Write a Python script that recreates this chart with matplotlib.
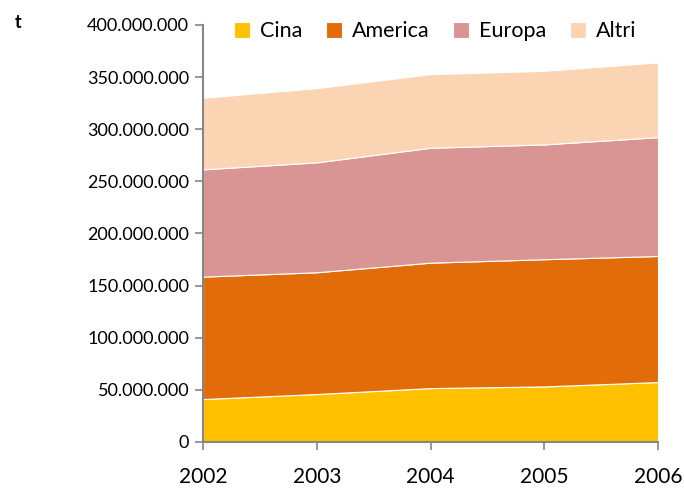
import matplotlib
matplotlib.use('Agg')
from matplotlib import pyplot as plt
from matplotlib.ticker import FuncFormatter, MultipleLocator
import numpy as np

years = [2002, 2003, 2004, 2005, 2006]
series_names = ['Cina', 'America', 'Europa', 'Altri']
cina = [41.2e6, 46.0e6, 51.7e6, 53.3e6, 57.5e6]
america = [117.4e6, 116.8e6, 120.3e6, 122.0e6, 120.9e6]
europa = [102.9e6, 105.4e6, 110.2e6, 110.1e6, 114.0e6]
altri = [68.6e6, 71.2e6, 70.6e6, 70.6e6, 71.6e6]
colours = ['#FFC000', '#E36C0A', '#D99594', '#FBD4B4']

plt.rcParams['font.family'] = ['Lato', 'DejaVu Sans']

fig = plt.figure(figsize=(6.84, 4.91), dpi=100)
ax = fig.add_axes([0.2968, 0.0998, 0.6652, 0.8494])

ax.stackplot(years, cina, america, europa, altri, labels=series_names,
             colors=colours, edgecolor='white', linewidth=0.8)

ax.set_xlim(2002, 2006)
ax.set_ylim(0, 400e6)
ax.set_xticks(years)
ax.yaxis.set_major_locator(MultipleLocator(50e6))

def it_fmt(v, pos):
    return f"{int(round(v)):,}".replace(',', '.')

ax.yaxis.set_major_formatter(FuncFormatter(it_fmt))

for s in ['top', 'right']:
    ax.spines[s].set_visible(False)
for s in ['left', 'bottom']:
    ax.spines[s].set_color('#868686')
    ax.spines[s].set_linewidth(1.5)

ax.tick_params(axis='y', colors='#868686', labelcolor='black', labelsize=13,
               length=6, width=1.2, pad=4)
ax.tick_params(axis='x', colors='#868686', labelcolor='black', labelsize=15,
               length=6, width=1.2, pad=12)

leg = ax.legend(loc='upper center', bbox_to_anchor=(0.51, 1.055), ncol=4,
                frameon=False, fontsize=15.5, handlelength=0.75, handleheight=0.75,
                handletextpad=0.45, columnspacing=1.1)

fig.text(0.022, 0.955, 't', fontsize=13, fontweight='bold', ha='left', va='center')

fig.savefig('out.png', dpi=100)
